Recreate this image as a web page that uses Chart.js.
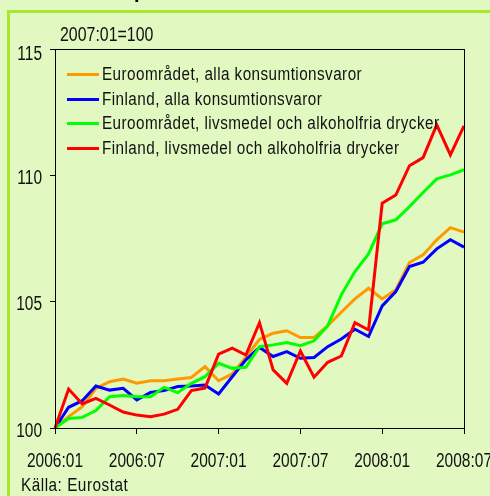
<!DOCTYPE html>
<html>
<head>
<meta charset="utf-8">
<script src="https://cdn.jsdelivr.net/npm/chart.js@4.4.0/dist/chart.umd.min.js"></script>
<style>
    body { margin: 0; background: #e2f8c1; }
    #wrap { position: relative; width: 490px; height: 496px; overflow: hidden; background: #e2f8c1; }
    .narrow { font-family: 'Liberation Sans', Arial, sans-serif; color: #111; position: absolute; white-space: nowrap; transform-origin: 0 0; }
    #ramTop { position: absolute; left: 7px; top: 10px; width: 483px; height: 3px; background: #a8e82c; }
    #ramLeft { position: absolute; left: 7px; top: 10px; width: 3px; height: 486px; background: #a8e82c; }
    #rubrik { position: absolute; left: 24px; top: -20px; font-family: 'Liberation Sans', Arial, sans-serif; font-weight: bold; font-size: 20px; color: #000; white-space: nowrap; }
    .legRad { position: absolute; left: 67px; height: 24px; }
    .legRad span.linje { position: absolute; left: 0; top: 11px; width: 32px; height: 3px; }
    .legRad span.txt { left: 35px; top: 0; line-height: 24px; font-size: 17.5px; letter-spacing: 0.5px; }
    canvas { position: absolute; left: 0; top: 0; }
</style>
</head>
<body>
<div id="wrap">
    <canvas id="myChart" width="490" height="496"></canvas>
    <div id="rubrik">Konsumentpriser i euroområdet och i Finland</div>
    <div id="ramTop"></div>
    <div id="ramLeft"></div>
    <div class="narrow" id="basAr" style="left:60px; top:23px; font-size:19.5px; line-height:22px;">2007:01=100</div>
    <div id="legend"></div>
    <div class="narrow" id="kalla" style="left:21px; top:475px; font-size:18.5px; line-height:20px; letter-spacing:0.6px;">Källa: Eurostat</div>
</div>

<script>
var manader = ['2006:01', '2006:02', '2006:03', '2006:04', '2006:05', '2006:06', '2006:07', '2006:08', '2006:09', '2006:10', '2006:11', '2006:12',
    '2007:01', '2007:02', '2007:03', '2007:04', '2007:05', '2007:06', '2007:07', '2007:08', '2007:09', '2007:10', '2007:11', '2007:12',
    '2008:01', '2008:02', '2008:03', '2008:04', '2008:05', '2008:06', '2008:07'];

var euroAlla = [100, 100.45, 100.84, 101.57, 101.83, 101.94, 101.77, 101.87, 101.87, 101.94, 102.0, 102.43,
    101.87, 102.14, 102.8, 103.51, 103.75, 103.85, 103.58, 103.58, 104.05, 104.58, 105.11, 105.53,
    105.11, 105.47, 106.55, 106.85, 107.45, 107.93, 107.75];

var finAlla = [100, 100.82, 101.08, 101.66, 101.50, 101.57, 101.11, 101.41, 101.48, 101.64, 101.66, 101.70,
    101.35, 102.03, 102.7, 103.19, 102.83, 103.02, 102.76, 102.79, 103.22, 103.52, 103.91, 103.62,
    104.83, 105.40, 106.39, 106.56, 107.09, 107.45, 107.16];

var euroLivs = [100, 100.38, 100.42, 100.69, 101.24, 101.29, 101.24, 101.24, 101.61, 101.40, 101.77, 102.03,
    102.56, 102.36, 102.40, 103.22, 103.29, 103.38, 103.26, 103.45, 104.04, 105.27, 106.19, 106.89,
    108.08, 108.24, 108.76, 109.32, 109.86, 110.02, 110.22];

var finLivs = [100, 101.54, 100.95, 101.17, 100.91, 100.63, 100.51, 100.45, 100.55, 100.74, 101.48, 101.58,
    102.92, 103.16, 102.89, 104.17, 102.30, 101.77, 103.05, 102.01, 102.60, 102.85, 104.17, 103.88,
    108.90, 109.22, 110.38, 110.70, 112.0, 110.81, 111.96];

var serieNamn = ['Euroområdet, alla konsumtionsvaror', 'Finland, alla konsumtionsvaror',
    'Euroområdet, livsmedel och alkoholfria drycker', 'Finland, livsmedel och alkoholfria drycker'];
var serieFarg = ['#ff9900', '#0000ff', '#00ff00', '#ff0000'];
var serieData = [euroAlla, finAlla, euroLivs, finLivs];

var yTicks = [100, 105, 110, 115];

// legenden inne i diagrammet
var legendHtml = '';
for (var i = 0; i < serieNamn.length; i++) {
    legendHtml += '<div class="legRad" style="top:' + (62 + i * 24.6) + 'px">' +
        '<span class="linje" style="background:' + serieFarg[i] + '"></span>' +
        '<span class="txt narrow">' + serieNamn[i] + '</span></div>';
}
document.getElementById('legend').innerHTML = legendHtml;

// smal stil: trycker ihop texten i sidled
function smal(el, faktor) {
    el.style.transform = 'scaleX(' + faktor + ')';
}
var legTexter = document.querySelectorAll('.legRad .txt');
var legFaktor = 260 / legTexter[0].offsetWidth;
legTexter.forEach(function (t) { smal(t, legFaktor); });
smal(document.getElementById('basAr'), 93 / document.getElementById('basAr').offsetWidth);
smal(document.getElementById('kalla'), 107 / document.getElementById('kalla').offsetWidth);

var datasets = [];
for (var i = 0; i < serieData.length; i++) {
    datasets.push({
        label: serieNamn[i],
        data: serieData[i],
        borderColor: serieFarg[i],
        backgroundColor: serieFarg[i],
        borderWidth: 3,
        pointRadius: 0,
        tension: 0,
        order: serieData.length - i
    });
}

var typsnitt = "'Liberation Sans', Arial, sans-serif";

// ram runt ritytan + smala axeltexter
const ramPlugin = {
    id: 'ram',
    afterDatasetsDraw(chart) {
        const a = chart.chartArea;
        const ctx = chart.ctx;
        ctx.save();
        ctx.strokeStyle = '#000';
        ctx.lineWidth = 1;
        ctx.strokeRect(a.left + 0.5, a.top + 0.5, a.right - a.left, a.bottom - a.top);
        ctx.restore();
    },
    afterDraw(chart) {
        const ctx = chart.ctx;
        const sx = chart.scales.x;
        const sy = chart.scales.y;
        ctx.save();
        ctx.fillStyle = '#111';
        ctx.font = '19.5px ' + typsnitt;
        var faktor = 56 / ctx.measureText('2006:01').width;

        ctx.textAlign = 'center';
        ctx.textBaseline = 'alphabetic';
        sx.ticks.forEach(function (t, i) {
            if (t.label == null) return;
            ctx.save();
            ctx.translate(sx.getPixelForTick(i), 466.5);
            ctx.scale(faktor, 1);
            ctx.fillText(t.label, 0, 0);
            ctx.restore();
        });

        ctx.textAlign = 'right';
        sy.ticks.forEach(function (t, i) {
            var y = sy.getPixelForTick(i) + 8.5;
            if (i == sy.ticks.length - 1) y += 2.5; // översta etiketten sitter lite lägre
            ctx.save();
            ctx.translate(42, y);
            ctx.scale(faktor, 1);
            ctx.fillText(t.label, 0, 0);
            ctx.restore();
        });
        ctx.restore();
    }
};

const config = {
    type: 'line',
    data: {
        labels: manader,
        datasets: datasets
    },
    options: {
        responsive: false,
        animation: false,
        layout: {
            autoPadding: false,
            padding: { top: 49, right: 26, left: 0, bottom: 0 }
        },
        plugins: {
            legend: { display: false },
            tooltip: { enabled: false }
        },
        scales: {
            x: {
                offset: false,
                afterFit: function (scale) {
                    scale.height = 68;
                    scale.paddingLeft = 0;
                    scale.paddingRight = 0;
                },
                grid: { drawOnChartArea: false, drawTicks: true, tickLength: 6, color: '#000' },
                border: { display: false },
                ticks: {
                    display: false,
                    autoSkip: false,
                    maxRotation: 0,
                    callback: function (val, index) {
                        return index % 6 == 0 ? manader[index] : null;
                    }
                }
            },
            y: {
                min: 100,
                max: 115,
                afterFit: function (scale) {
                    scale.width = 55;
                    scale.paddingTop = 0;
                    scale.paddingBottom = 0;
                },
                afterBuildTicks: function (scale) {
                    scale.ticks = yTicks.map(v => ({ value: v }));
                },
                grid: { drawOnChartArea: false, drawTicks: true, tickLength: 5, color: '#000' },
                border: { display: false },
                ticks: { display: false }
            }
        }
    },
    plugins: [ramPlugin]
};

const myChart = new Chart(document.getElementById('myChart'), config);
</script>
</body>
</html>
